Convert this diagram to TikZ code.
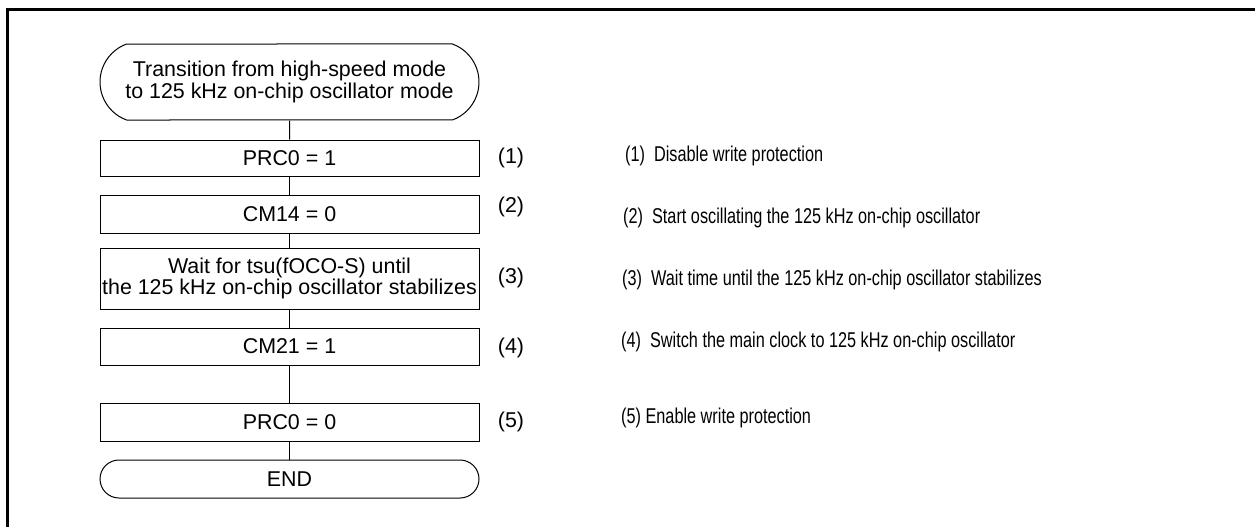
\documentclass[tikz,border=0pt]{standalone}
\usepackage{fontspec}
\setmainfont{Liberation Sans}
\newfontfamily\narrowfont{Liberation Sans}[FakeStretch=0.76]
\usetikzlibrary{shapes.misc}
\begin{document}
\begin{tikzpicture}[x=1pt,y=-1pt,
  every node/.style={font=\fontsize{21.4}{23}\selectfont, inner sep=0pt},
  stepbox/.style={draw, line width=1pt, rectangle, minimum width=379pt, align=center},
  termbox/.style={draw, line width=1pt, rounded rectangle, minimum width=379pt, align=center},
  numlbl/.style={anchor=center},
  desc/.style={anchor=west, font=\narrowfont\fontsize{21.4}{23}\selectfont},
  link/.style={line width=1pt}]
\useasboundingbox (0,0) rectangle (1255,527);
\draw[line width=3pt, line join=miter] (1255,9.5) -- (7.5,9.5) -- (7.5,527);

\node[termbox, minimum height=76pt, rounded rectangle arc length=140,
      font=\fontsize{21.4}{21.5}\selectfont] (start) at (289.5,82)
  {Transition from high-speed mode\\to 125 kHz on-chip oscillator mode};
\node[stepbox, minimum height=36pt] (p1) at (289.5,158) {PRC0 = 1};
\node[stepbox, minimum height=38pt] (c14) at (289.5,214) {CM14 = 0};
\node[stepbox, minimum height=61pt, font=\fontsize{21.4}{18.5}\selectfont] (wait) at (289.5,278.5)
  {Wait for tsu(fOCO-S) until\\the 125 kHz on-chip oscillator stabilizes};
\node[stepbox, minimum height=37pt] (c21) at (289.5,346.5) {CM21 = 1};
\node[stepbox, minimum height=38pt] (p0) at (289.5,422) {PRC0 = 0};
\node[termbox, minimum height=38pt, rounded rectangle arc length=180] (end) at (289.5,479) {END};

\draw[link] (start) -- (p1);
\draw[link] (p1) -- (c14);
\draw[link] (c14) -- (wait);
\draw[link] (wait) -- (c21);
\draw[link] (c21) -- (p0);
\draw[link] (p0) -- (end);

\node[numlbl] (n1) at (511,158) {(1)};
\node[numlbl] (n2) at (511,207) {(2)};
\node[numlbl] (n3) at (511,278) {(3)};
\node[numlbl] (n4) at (511,348) {(4)};
\node[numlbl] (n5) at (511,422) {(5)};

\node[desc] (d1) at (625,156) {(1)\ \ Disable write protection};
\node[desc] (d2) at (623,218) {(2)\ \ Start oscillating the 125 kHz on-chip oscillator};
\node[desc] (d3) at (622,280) {(3)\ \ Wait time until the 125 kHz on-chip oscillator stabilizes};
\node[desc] (d4) at (621,342) {(4)\ \ Switch the main clock to 125 kHz on-chip oscillator};
\node[desc] (d5) at (621,418) {(5) Enable write protection};
\end{tikzpicture}
\end{document}
